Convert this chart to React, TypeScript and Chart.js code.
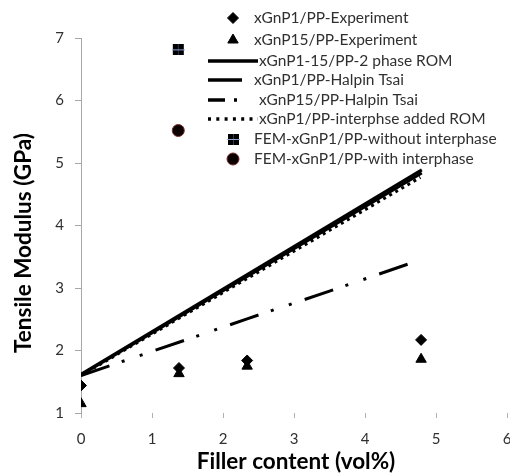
import React, { useEffect, useRef } from 'react';
import { Chart, registerables } from 'chart.js';

Chart.register(...registerables);

// ---------- data ----------
const seriesNames = [
  'xGnP1/PP-Experiment',
  'xGnP15/PP-Experiment',
  'xGnP1-15/PP-2 phase ROM',
  'xGnP1/PP-Halpin Tsai',
  'xGnP15/PP-Halpin Tsai',
  'xGnP1/PP-interphse added ROM',
  'FEM-xGnP1/PP-without interphase',
  'FEM-xGnP1/PP-with interphase',
];

const exp1X = [0, 1.38, 2.34, 4.79];
const exp1Y = [1.44, 1.72, 1.84, 2.17];

const exp15X = [0, 1.38, 2.34, 4.79];
const exp15Y = [1.15, 1.63, 1.75, 1.86];

const romX = [0, 4.8];
const romY = [1.62, 4.89];

const ht1X = [0, 4.8];
const ht1Y = [1.61, 4.84];

const ht15X = [0, 1.4, 2.35, 3.5, 4.6];
const ht15Y = [1.6, 2.14, 2.51, 2.95, 3.38];

const interX = [0, 4.78];
const interY = [1.6, 4.77];

const femNoX = [1.37];
const femNoY = [6.81];

const femWithX = [1.37];
const femWithY = [5.52];

const xTicks = [0, 1, 2, 3, 4, 5, 6];
const yTicks = [1, 2, 3, 4, 5, 6, 7];

const xTitle = 'Filler content (vol%)';
const yTitle = 'Tensile Modulus (GPa)';

// ---------- helpers ----------
const pts = (xs: number[], ys: number[]) => xs.map((x, i) => ({ x, y: ys[i] }));

const FONT = 'Lato, "Open Sans", sans-serif';

function makeSquareIcon(): HTMLCanvasElement {
  const c = document.createElement('canvas');
  c.width = 13;
  c.height = 11;
  const g = c.getContext('2d')!;
  g.fillStyle = '#000';
  g.fillRect(1, 0, 11, 11);
  g.fillStyle = '#2c3a5c';
  g.fillRect(6, 0, 1, 11);
  g.fillStyle = '#8fa3d6';
  g.fillRect(0, 5, 13, 1);
  return c;
}

function drawMarker(ctx: CanvasRenderingContext2D, ds: any, x: number, y: number) {
  const style = ds.pointStyle;
  const r = ds.pointRadius;
  if (style instanceof HTMLCanvasElement) {
    ctx.drawImage(style, Math.round(x - style.width / 2), Math.round(y - style.height / 2));
    return;
  }
  ctx.beginPath();
  if (style === 'rectRot') {
    ctx.moveTo(x, y - r);
    ctx.lineTo(x + r, y);
    ctx.lineTo(x, y + r);
    ctx.lineTo(x - r, y);
    ctx.closePath();
  } else if (style === 'triangle') {
    ctx.moveTo(x, y - r);
    ctx.lineTo(x + 0.866 * r, y + 0.5 * r);
    ctx.lineTo(x - 0.866 * r, y + 0.5 * r);
    ctx.closePath();
  } else {
    ctx.arc(x, y, r, 0, Math.PI * 2);
  }
  ctx.fillStyle = ds.pointBackgroundColor;
  ctx.fill();
  ctx.lineWidth = ds.pointBorderWidth || 1;
  ctx.strokeStyle = ds.pointBorderColor;
  ctx.stroke();
}

// legend layout (style only)
const legendRows = [
  { y: 18, sx: 233, tx: 254 },
  { y: 40, sx: 233, tx: 254 },
  { y: 61, x1: 208, x2: 258, dash: [] as number[], tx: 259 },
  { y: 80, x1: 208, x2: 242, dash: [] as number[], tx: 254 },
  { y: 100, x1: 208, x2: 237, dash: [17, 9, 3, 40], tx: 259 },
  { y: 119, x1: 208, x2: 258, dash: [3, 5.3], tx: 259 },
  { y: 139, sx: 233, tx: 254 },
  { y: 159, sx: 233, tx: 254 },
];

const overlayPlugin = {
  id: 'overlay',
  afterDraw(chart: any) {
    const ctx: CanvasRenderingContext2D = chart.ctx;
    const area = chart.chartArea;
    ctx.save();
    // axis titles
    ctx.fillStyle = '#000';
    ctx.font = `bold 22.5px ${FONT}`;
    ctx.textAlign = 'center';
    ctx.textBaseline = 'middle';
    ctx.fillText(xTitle, (area.left + area.right) / 2 + 2, 462);
    ctx.save();
    ctx.translate(24, 243);
    ctx.rotate(-Math.PI / 2);
    ctx.fillText(yTitle, 0, 0);
    ctx.restore();

    // legend
    chart.data.datasets.forEach((ds: any, i: number) => {
      const row: any = legendRows[i];
      if (!row) return;
      if (ds.showLine) {
        ctx.save();
        ctx.strokeStyle = ds.borderColor;
        ctx.lineWidth = 3.5;
        ctx.setLineDash(row.dash);
        ctx.beginPath();
        ctx.moveTo(row.x1, row.y);
        ctx.lineTo(row.x2, row.y);
        ctx.stroke();
        ctx.restore();
      } else {
        drawMarker(ctx, ds, row.sx, row.y);
      }
      ctx.fillStyle = '#303030';
      ctx.font = `15.5px ${FONT}`;
      ctx.textAlign = 'left';
      ctx.textBaseline = 'middle';
      ctx.fillText(ds.label, row.tx, row.y);
    });
    ctx.restore();
  },
};

export default function App() {
  const ref = useRef<HTMLCanvasElement | null>(null);

  useEffect(() => {
    if (!ref.current) return;
    const square = makeSquareIcon();
    const lineDs = (label: string, data: any[], dash: number[], width = 3) => ({
      label,
      data,
      showLine: true,
      borderColor: '#000',
      backgroundColor: '#000',
      borderWidth: width,
      borderDash: dash,
      pointRadius: 0,
      pointHoverRadius: 0,
      tension: 0,
      order: 2,
    });
    const markDs = (label: string, data: any[], style: any, r: number, fill: string, stroke: string) => ({
      label,
      data,
      showLine: false,
      pointStyle: style,
      pointRadius: r,
      pointBackgroundColor: fill,
      pointBorderColor: stroke,
      pointBorderWidth: 1,
      borderColor: stroke,
      backgroundColor: fill,
      order: 1,
    });

    const chart = new Chart(ref.current, {
      type: 'scatter',
      data: {
        datasets: [
          markDs(seriesNames[0], pts(exp1X, exp1Y), 'rectRot', 5.5, '#000', '#000'),
          markDs(seriesNames[1], pts(exp15X, exp15Y), 'triangle', 6, '#000', '#000'),
          lineDs(seriesNames[2], pts(romX, romY), [], 3),
          lineDs(seriesNames[3], pts(ht1X, ht1Y), [], 3),
          lineDs(seriesNames[4], pts(ht15X, ht15Y), [30, 13, 3, 16, 3, 13.75], 3),
          lineDs(seriesNames[5], pts(interX, interY), [3, 4], 3),
          markDs(seriesNames[6], pts(femNoX, femNoY), square, 6, '#000', '#000'),
          markDs(seriesNames[7], pts(femWithX, femWithY), 'circle', 6, '#0a0000', '#7a2a2a'),
        ] as any,
      },
      options: {
        animation: false,
        responsive: false,
        events: [],
        layout: { autoPadding: false, padding: { top: 38, right: 3, left: 0, bottom: 0 } },
        plugins: {
          legend: { display: false },
          tooltip: { enabled: false },
          title: { display: false },
        },
        scales: {
          x: {
            type: 'linear',
            min: xTicks[0],
            max: xTicks[xTicks.length - 1],
            afterBuildTicks: (s: any) => {
              s.ticks = xTicks.map((v) => ({ value: v }));
            },
            afterFit: (s: any) => {
              s.height = 61;
              s.paddingLeft = 0;
              s.paddingRight = 0;
            },
            border: { display: false },
            grid: {
              drawOnChartArea: false,
              drawTicks: true,
              tickLength: 5,
              color: '#b0b0b0',
              lineWidth: 1,
            },
            ticks: {
              padding: 12,
              color: '#303030',
              font: { family: FONT, size: 15 },
              maxRotation: 0,
              autoSkip: false,
            },
          },
          y: {
            type: 'linear',
            min: yTicks[0],
            max: yTicks[yTicks.length - 1],
            afterBuildTicks: (s: any) => {
              s.ticks = yTicks.map((v) => ({ value: v }));
            },
            afterFit: (s: any) => {
              s.width = 81;
              s.paddingTop = 0;
              s.paddingBottom = 0;
            },
            border: { display: true, color: '#a8a8a8', width: 1 },
            grid: {
              drawOnChartArea: false,
              drawTicks: true,
              tickLength: 6,
              color: '#a8a8a8',
              lineWidth: 1,
            },
            ticks: {
              padding: 11,
              color: '#303030',
              font: { family: FONT, size: 15 },
              autoSkip: false,
            },
          },
        },
      } as any,
      plugins: [overlayPlugin],
    });
    return () => chart.destroy();
  }, []);

  return (
    <canvas
      ref={ref}
      width={510}
      height={474}
      style={{ position: 'absolute', left: 0, top: 0, width: 510, height: 474 }}
    />
  );
}
